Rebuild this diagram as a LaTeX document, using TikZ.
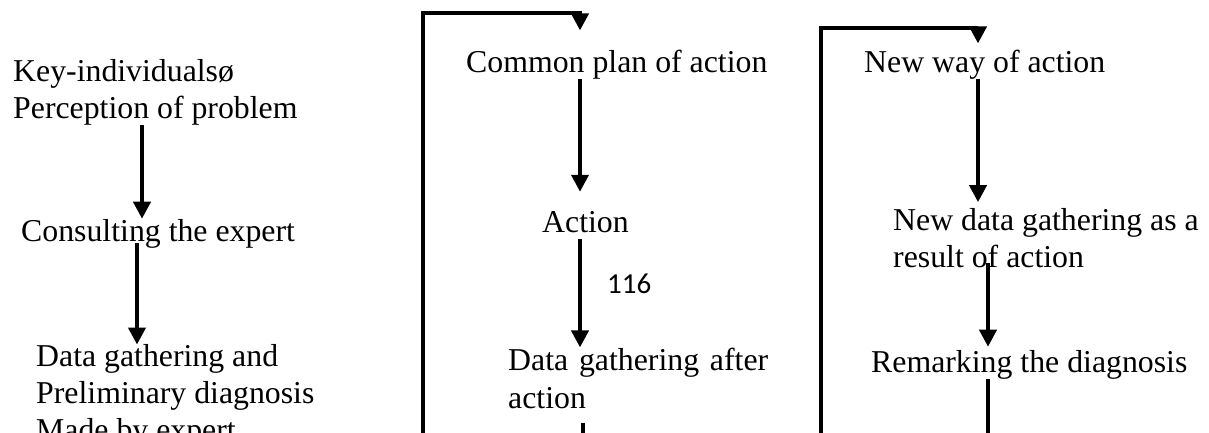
\documentclass[tikz,border=0pt]{standalone}
\usepackage{fontspec}
\setmainfont{Liberation Serif}
\newfontfamily\pagenumfont{Carlito}
\usetikzlibrary{arrows.meta}
\begin{document}
\begin{tikzpicture}[x=1pt,y=-1pt,
  txt/.style={anchor=base west,inner sep=0pt,align=left,
    font=\fontsize{31.8}{36.6}\selectfont},
  arr/.style={line width=4pt,-{Triangle[length=17pt,width=17pt]}},
  ln/.style={line width=4pt}]
\useasboundingbox (0,0) rectangle (1209,432);
\clip (0,0) rectangle (1209,432);
\fill[white] (0,0) rectangle (1209,432);

% first column: diagnosis by the expert (multi-line nodes sit on their last baseline)
\node[txt] (kp) at (13,118) {Key-individualsø\\Perception of problem};
\node[txt] (ce) at (21,241) {Consulting the expert};
\node[txt] (dg) at (36,440) {Data gathering and\\Preliminary diagnosis\\Made by expert};

% second column: first action cycle
\node[txt] (cp) at (466,72) {Common plan of action};
\node[txt] (ac) at (542,232) {Action};
\node[txt,text width=260pt,align=justify,
  font=\fontsize{31.8}{38}\selectfont] (da) at (508,370) {Data gathering after action};
\node[anchor=base west,inner sep=0pt,font=\pagenumfont\fontsize{29}{34}\selectfont] (pg) at (607,293) {116};

% third column: new action cycle
\node[txt] (nw) at (864,72) {New way of action};
\node[txt] (nd) at (893,267) {New data gathering as a\\result of action};
\node[txt] (rd) at (871,372) {Remarking the diagnosis};

\coordinate (x1) at (142,0);
\coordinate (x2) at (137,0);
\coordinate (x3) at (580,0);
\coordinate (x4) at (583,0);
\coordinate (x5) at (978,0);
\coordinate (x6) at (988,0);
\coordinate (b1) at (583,445);
\coordinate (b2) at (988,445);

\draw[arr] (kp.south -| x1) -- (ce.north -| x1);
\draw[arr] ([yshift=5pt]ce.south -| x2) -- (dg.north -| x2);

\draw[arr] (cp.south -| x3) -- ([yshift=19pt]ac.north -| x3);
\draw[arr] ([yshift=-6pt]ac.south -| x3) -- (da.north -| x3);
\draw[ln] ([yshift=-14pt]da.south -| x4) -- (b1);

\draw[arr] (nw.south -| x5) -- ([yshift=6pt]nd.north -| x5);
\draw[arr] ([yshift=5pt]nd.south -| x6) -- ([yshift=3pt]rd.north -| x6);
\draw[ln] (rd.south -| x6) -- (b2);

% feedback loops returning to the top of each cycle
\draw[arr,line join=miter] (423,445) -- (423,13) -- (580,13) -- ([yshift=19pt]cp.north -| x3);
\draw[arr,line join=miter] (821,445) -- (821,28) -- (978,28) -- ([yshift=6pt]nw.north -| x5);
\end{tikzpicture}
\end{document}
